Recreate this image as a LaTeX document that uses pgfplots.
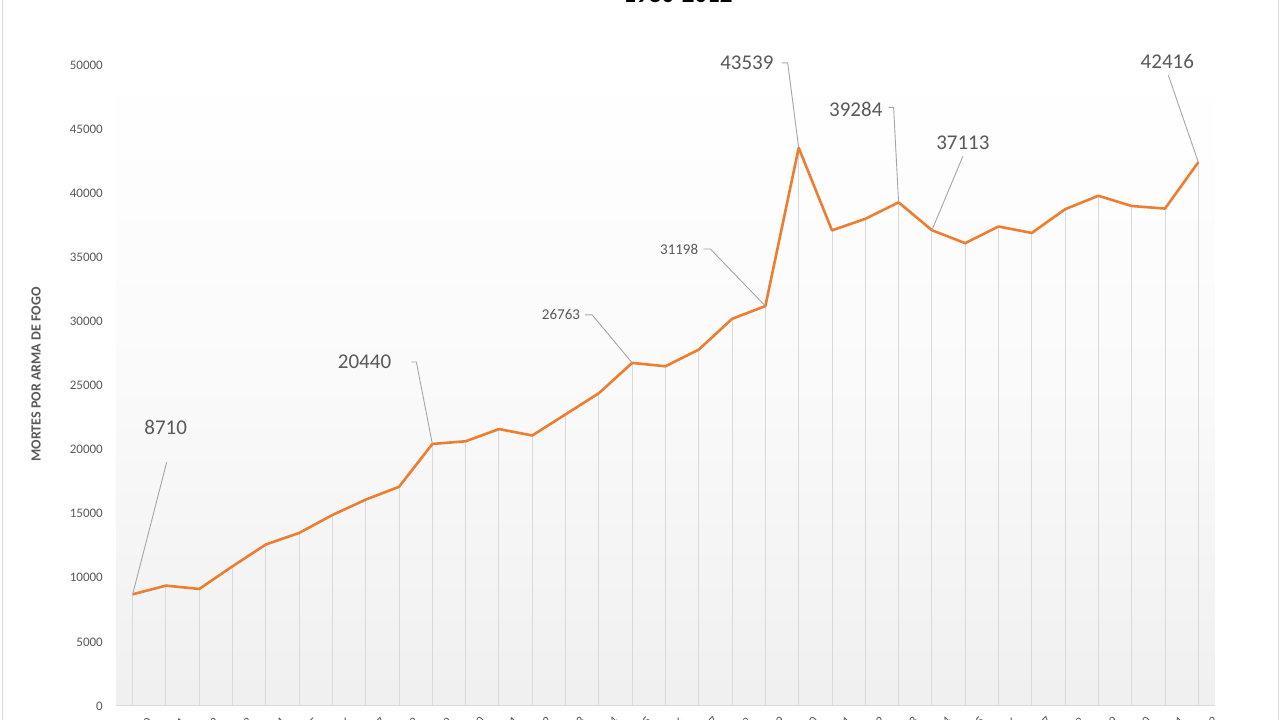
\documentclass[border=0pt]{standalone}
\usepackage{pgfplots}
\pgfplotsset{compat=1.18}
\usepackage{pgfplotstable}
\usepackage{fontspec}
\setmainfont{Carlito}

\definecolor{lineorange}{HTML}{ED7D31}
\definecolor{txtgray}{HTML}{595959}
\definecolor{dropgray}{HTML}{D9D9D9}
\definecolor{leadgray}{HTML}{A6A6A6}

% mortes por arma de fogo, 1980-2012
\pgfplotstableread{
ano   mortes
1980  8710
1981  9390
1982  9130
1983  10900
1984  12600
1985  13500
1986  14900
1987  16100
1988  17100
1989  20440
1990  20650
1991  21600
1992  21100
1993  22750
1994  24400
1995  26763
1996  26500
1997  27800
1998  30200
1999  31198
2000  43539
2001  37100
2002  38000
2003  39284
2004  37113
2005  36100
2006  37400
2007  36900
2008  38750
2009  39800
2010  39000
2011  38800
2012  42416
}\mortes

\tikzset{
  leader/.style={draw=leadgray, line width=0.9pt},
  biglab/.style={text=txtgray, font=\fontsize{21}{21}\selectfont, inner sep=0pt},
  smalllab/.style={text=txtgray, font=\fontsize{15}{15}\selectfont, inner sep=0pt},
}

\begin{document}
\begin{tikzpicture}
  \useasboundingbox (0,0) rectangle (1280pt,720pt);
  \clip (0,0) rectangle (1280pt,720pt);
  \fill[white] (0,0) rectangle (1280pt,720pt);
  \draw[dropgray, line width=0.8pt] (2pt,-5pt) -- (2pt,725pt);
  \draw[dropgray, line width=0.8pt] (1278pt,-5pt) -- (1278pt,725pt);

  \node[font=\bfseries\fontsize{25}{25}\selectfont, anchor=base] at (678pt,717pt) {1980-2012};

  \begin{axis}[
      at={(116pt,14pt)}, anchor=south west,
      scale only axis,
      width=1099pt, height=641pt,
      xmin=1979.5, xmax=2012.5,
      ymin=0, ymax=50000,
      ytick={0,5000,...,50000},
      xtick=data,
      scaled y ticks=false,
      /pgf/number format/1000 sep={},
      /pgf/number format/assume math mode=true,
      axis y line*=left,
      y axis line style={draw=none},
      axis x line*=bottom,
      x axis line style={draw=dropgray, line width=1pt, -},
      major tick length=0pt,
      axis background/.style={shade, top color=white, bottom color=black!6, middle color=white!98!black},
      yticklabel style={text=txtgray, font=\fontsize{13}{13}\selectfont, inner sep=0pt, xshift=-13pt, anchor=east},
      xticklabel style={text=txtgray, font=\fontsize{13}{13}\selectfont, inner sep=0pt, rotate=45, anchor=north east, yshift=-17pt, xshift=3pt},
      ylabel={MORTES POR ARMA DE FOGO},
      every axis y label/.style={at={(rel axis cs:0,0.5)}, rotate=90, anchor=center,
        yshift=80pt, xshift=11pt, text=txtgray, font=\bfseries\fontsize{14}{14}\selectfont},
      clip=false,
    ]
    \addplot[ycomb, draw=dropgray, line width=1pt] table[x=ano, y=mortes] {\mortes};
    \addplot[draw=lineorange, line width=2.6pt, line join=round, mark=none] table[x=ano, y=mortes] {\mortes};

    % rotulos de dados
    \draw[leader] (axis cs:1980,8710) -- ++(34pt,132pt);
    \node[biglab] at (axis cs:1980,8710) [xshift=33pt, yshift=167pt] {8710};

    \draw[leader] (axis cs:1989,20440) -- ++(-16pt,82pt) -- ++(-5pt,0pt);
    \node[biglab, anchor=east] at (axis cs:1989,20440) [xshift=-41pt, yshift=82pt] {20440};

    \draw[leader] (axis cs:1995,26763) -- ++(-40pt,48pt) -- ++(-7pt,0pt);
    \node[smalllab, anchor=east] at (axis cs:1995,26763) [xshift=-52pt, yshift=48pt] {26763};

    \draw[leader] (axis cs:1999,31198) -- ++(-55pt,57pt) -- ++(-7pt,0pt);
    \node[smalllab, anchor=east] at (axis cs:1999,31198) [xshift=-67pt, yshift=57pt] {31198};

    \draw[leader] (axis cs:2000,43539) -- ++(-11pt,85pt) -- ++(-6pt,0pt);
    \node[biglab, anchor=east] at (axis cs:2000,43539) [xshift=-25pt, yshift=85pt] {43539};

    \draw[leader] (axis cs:2003,39284) -- ++(-5pt,95pt) -- ++(-5pt,0pt);
    \node[biglab, anchor=east] at (axis cs:2003,39284) [xshift=-16pt, yshift=93pt] {39284};

    \draw[leader] (axis cs:2004,37113) -- ++(31pt,74pt);
    \node[biglab] at (axis cs:2004,37113) [xshift=31pt, yshift=87pt] {37113};

    \draw[leader] (axis cs:2012,42416) -- ++(-30pt,87pt);
    \node[biglab] at (axis cs:2012,42416) [xshift=-31pt, yshift=101pt] {42416};
  \end{axis}
\end{tikzpicture}
\end{document}
